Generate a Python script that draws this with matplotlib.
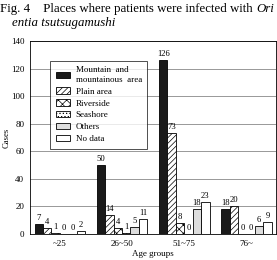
import matplotlib.pyplot as plt
import numpy as np

plt.rcParams['font.family'] = ['Liberation Serif', 'DejaVu Serif']
plt.rcParams['hatch.linewidth'] = 0.5

groups = ['~25', '26~50', '51~75', '76~']
places = ['Mountain  and\nmountainous  area', 'Plain area', 'Riverside',
          'Seashore', 'Others', 'No data']
mountain = [7, 50, 126, 18]
plain = [4, 14, 73, 20]
riverside = [1, 4, 8, 0]
seashore = [0, 1, 0, 0]
others = [0, 5, 18, 6]
nodata = [2, 11, 23, 9]
series = [mountain, plain, riverside, seashore, others, nodata]

faces = ['#1a1a1a', 'white', 'white', 'white', '#dddddd', 'white']
hatches = ['', '//////', 'xxxx', '.....', '', '']

fig = plt.figure(figsize=(2.77, 2.60), dpi=100)
ax = fig.add_axes([0.108, 0.1, 0.89, 0.742])

x = np.arange(len(groups))
w = 0.135
for i, vals in enumerate(series):
    pos = x - 2.5 * w + i * w
    ax.bar(pos, vals, w, color=faces[i], edgecolor='black', linewidth=0.6,
           hatch=hatches[i], label=places[i], zorder=3)
    for p, v in zip(pos, vals):
        ax.text(p, v + 1.5, str(v), ha='center', va='bottom', fontsize=6.2)

ax.set_xlim(-0.48, 3.48)
ax.set_ylim(0, 140)
ax.set_yticks(range(0, 141, 20))
ax.set_xticks(x)
ax.set_xticklabels(groups)
ax.tick_params(axis='both', labelsize=6.5, length=0, pad=4)
ax.yaxis.grid(True, color='#888888', linewidth=0.6, zorder=0)
for s in ax.spines.values():
    s.set_linewidth(0.6)

ax.set_ylabel('Cases', fontsize=6.2)
ax.yaxis.set_label_coords(-0.078, 0.5)
ax.set_xlabel('Age groups', fontsize=6.5, labelpad=2)

leg = ax.legend(loc='upper left', bbox_to_anchor=(0.065, 0.92), fontsize=6.5,
                frameon=True, fancybox=False, edgecolor='black',
                handlelength=1.6, handleheight=0.7, borderpad=0.6,
                labelspacing=0.4, handletextpad=0.6)
leg.get_frame().set_linewidth(0.6)
leg.set_zorder(5)

t1 = fig.text(0.0, 0.967, 'Fig. 4    Places where patients were infected with ',
              fontsize=9.3, va='center', ha='left')
fig.canvas.draw()
bb = t1.get_window_extent().transformed(fig.transFigure.inverted())
fig.text(bb.x1, 0.967, 'Ori', fontsize=9.3, style='italic', va='center', ha='left')
fig.text(0.045, 0.91, 'entia tsutsugamushi', fontsize=9.3, style='italic',
         va='center', ha='left')

fig.savefig('out.png', dpi=100)
